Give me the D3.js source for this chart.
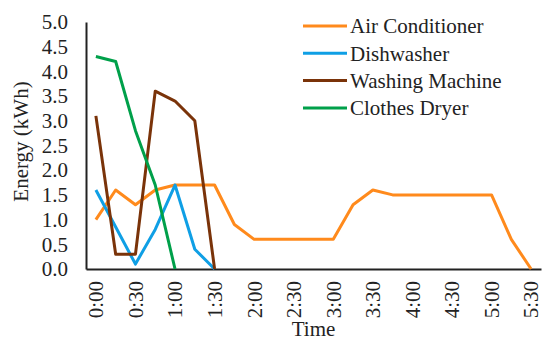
<!DOCTYPE html>
<html>
<head>
<meta charset="utf-8">
<script src="https://cdn.jsdelivr.net/npm/d3@7"></script>
<style>
  html, body { margin: 0; padding: 0; background: #fff; }
  svg { display: block; }
  text { font-family: "Liberation Serif", "Times New Roman", serif; fill: #222; }
</style>
</head>
<body>
<svg id="chart" width="543" height="341"></svg>
<script>
// Time slots, 15-minute steps
const times = ["0:00","0:15","0:30","0:45","1:00","1:15","1:30","1:45","2:00","2:15","2:30","2:45",
               "3:00","3:15","3:30","3:45","4:00","4:15","4:30","4:45","5:00","5:15","5:30"];

// Energy per appliance (kWh)
const airConditioner = [1.0,1.6,1.3,1.6,1.7,1.7,1.7,0.9,0.6,0.6,0.6,0.6,0.6,1.3,1.6,1.5,1.5,1.5,1.5,1.5,1.5,0.6,0.0];
const dishwasher     = [1.6,0.85,0.1,0.8,1.7,0.4,0.0];
const washingMachine = [3.1,0.3,0.3,3.6,3.4,3.0,0.0];
const clothesDryer   = [4.3,4.2,2.8,1.7,0.0];

const seriesNames  = ["Air Conditioner","Dishwasher","Washing Machine","Clothes Dryer"];
const seriesValues = [airConditioner, dishwasher, washingMachine, clothesDryer];
const seriesColors = ["#FF8A1C","#0F9FE5","#7A3309","#00A04A"];

const yTicks = [0,0.5,1,1.5,2,2.5,3,3.5,4,4.5,5];
const xTickLabels = times.filter((t, i) => i % 2 === 0);

const svg = d3.select("#chart");
const plotLeft = 86, plotRight = 541, plotTop = 22, plotBottom = 269;

const x = d3.scaleBand().domain(times).range([plotLeft, plotRight]);
const y = d3.scaleLinear().domain([0, 5]).range([plotBottom, plotTop]);

// Y axis
const yAxis = svg.append("g")
  .attr("transform", `translate(${plotLeft},0)`)
  .call(d3.axisLeft(y).tickValues(yTicks).tickSize(0).tickPadding(18).tickFormat(d3.format(".1f")));
yAxis.select(".domain").attr("stroke", "#222").attr("stroke-width", 2);
yAxis.selectAll("text").style("font-size", "21px").style("font-family", "Liberation Serif").attr("fill", "#222");

// X axis with rotated labels
const xAxis = svg.append("g")
  .attr("transform", `translate(0,${plotBottom})`)
  .call(d3.axisBottom(x).tickValues(xTickLabels).tickSize(0));
xAxis.select(".domain").attr("stroke", "#222").attr("stroke-width", 2);
xAxis.selectAll("text")
  .style("font-size", "21px").style("font-family", "Liberation Serif").attr("fill", "#222")
  .attr("transform", "rotate(-90)")
  .attr("text-anchor", "end")
  .attr("x", -12).attr("y", 0).attr("dy", "0.35em");

// Series lines
const line = d3.line()
  .x((d, i) => x(times[i]) + x.bandwidth() / 2)
  .y(d => y(d));

seriesValues.forEach((vals, k) => {
  svg.append("path")
    .datum(vals)
    .attr("fill", "none")
    .attr("stroke", seriesColors[k])
    .attr("stroke-width", 3)
    .attr("stroke-linejoin", "round")
    .attr("d", line);
});

// Axis titles
svg.append("text")
  .attr("transform", `translate(28,${(plotTop + plotBottom) / 2 - 4}) rotate(-90)`)
  .attr("text-anchor", "middle")
  .style("font-size", "21px")
  .text("Energy (kWh)");

svg.append("text")
  .attr("x", (plotLeft + plotRight) / 2)
  .attr("y", 336)
  .attr("text-anchor", "middle")
  .style("font-size", "21px")
  .text("Time");

// Legend
const legend = svg.append("g");
seriesNames.forEach((name, k) => {
  const cy = 26 + k * 27.3;
  legend.append("line")
    .attr("x1", 303).attr("x2", 347)
    .attr("y1", cy).attr("y2", cy)
    .attr("stroke", seriesColors[k]).attr("stroke-width", 3);
  legend.append("text")
    .attr("x", 350).attr("y", cy).attr("dy", "0.35em")
    .style("font-size", "21px")
    .text(name);
});
</script>
</body>
</html>
